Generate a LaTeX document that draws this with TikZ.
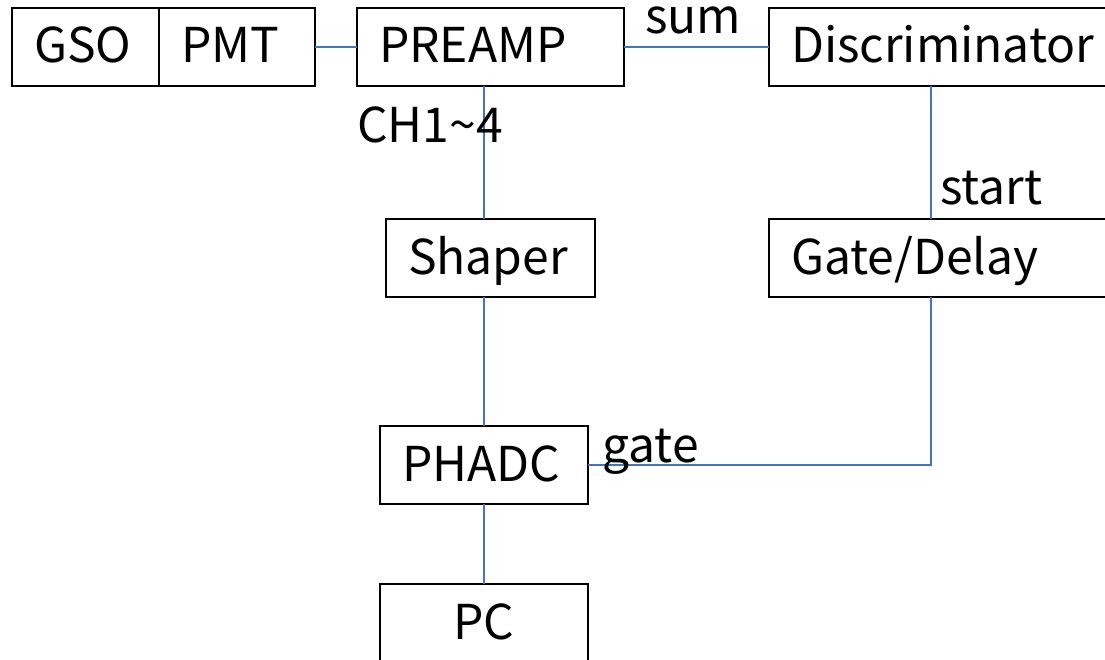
\documentclass[tikz,border=0pt]{standalone}
\usepackage{fontspec}
\setmainfont{Noto Sans CJK JP}
\definecolor{linkblue}{HTML}{4472C4}
\begin{document}
\begin{tikzpicture}[x=1pt,y=-1pt,
  box/.style={draw=black, line width=2.4pt, anchor=north west, outer sep=0pt,
    minimum height=78pt, inner xsep=22pt, inner ysep=0pt,
    text height=40pt, text depth=8pt, align=left,
    font=\fontsize{48}{56}\selectfont},
  lbl/.style={anchor=base west, inner sep=0pt, font=\fontsize{48}{56}\selectfont},
  conn/.style={draw=linkblue, line width=1.2pt}]
\useasboundingbox (0,0) rectangle (1105,660);
\fill[white] (0,0) rectangle (1105,660);
\clip (0,0) rectangle (1105,660);
\node[box, minimum width=147pt, text width=103pt] (gso) at (12,8) {GSO};
\node[box, minimum width=156pt, text width=112pt] (pmt) at (159,8) {PMT};
\node[box, minimum width=267pt, text width=223pt] (preamp) at (357,8) {PREAMP};
\node[box, minimum width=360pt, text width=316pt] (disc) at (769,8) {Discriminator};
\node[box, minimum width=209pt, text width=165pt] (shaper) at (386,219) {Shaper};
\node[box, minimum width=360pt, text width=316pt] (gd) at (769,219) {Gate/Delay};
\node[box, minimum width=208pt, text width=164pt] (phadc) at (380,426) {PHADC};
\node[box, minimum width=208pt, text width=164pt, align=center] (pc) at (380,584) {PC};
\coordinate (tap) at (484,0);
\coordinate (dtap) at (931,0);
\draw[conn] (pmt.east) -- (preamp.west);
\draw[conn] (preamp.east) -- (disc.west);
\draw[conn] (preamp.south -| tap) -- (shaper.north -| tap);
\draw[conn] (shaper.south -| tap) -- (phadc.north -| tap);
\draw[conn] (phadc.south -| tap) -- (pc.north -| tap);
\draw[conn] (disc.south -| dtap) -- (gd.north -| dtap);
\draw[conn] (gd.south -| dtap) |- (phadc.east);
\node[lbl] (lsum) at (645,34) {sum};
\node[lbl] (lch) at (357,143) {CH1\char"007E 4};
\node[lbl] (lstart) at (940,205) {start};
\node[lbl] (lgate) at (602,462) {gate};
\end{tikzpicture}
\end{document}
